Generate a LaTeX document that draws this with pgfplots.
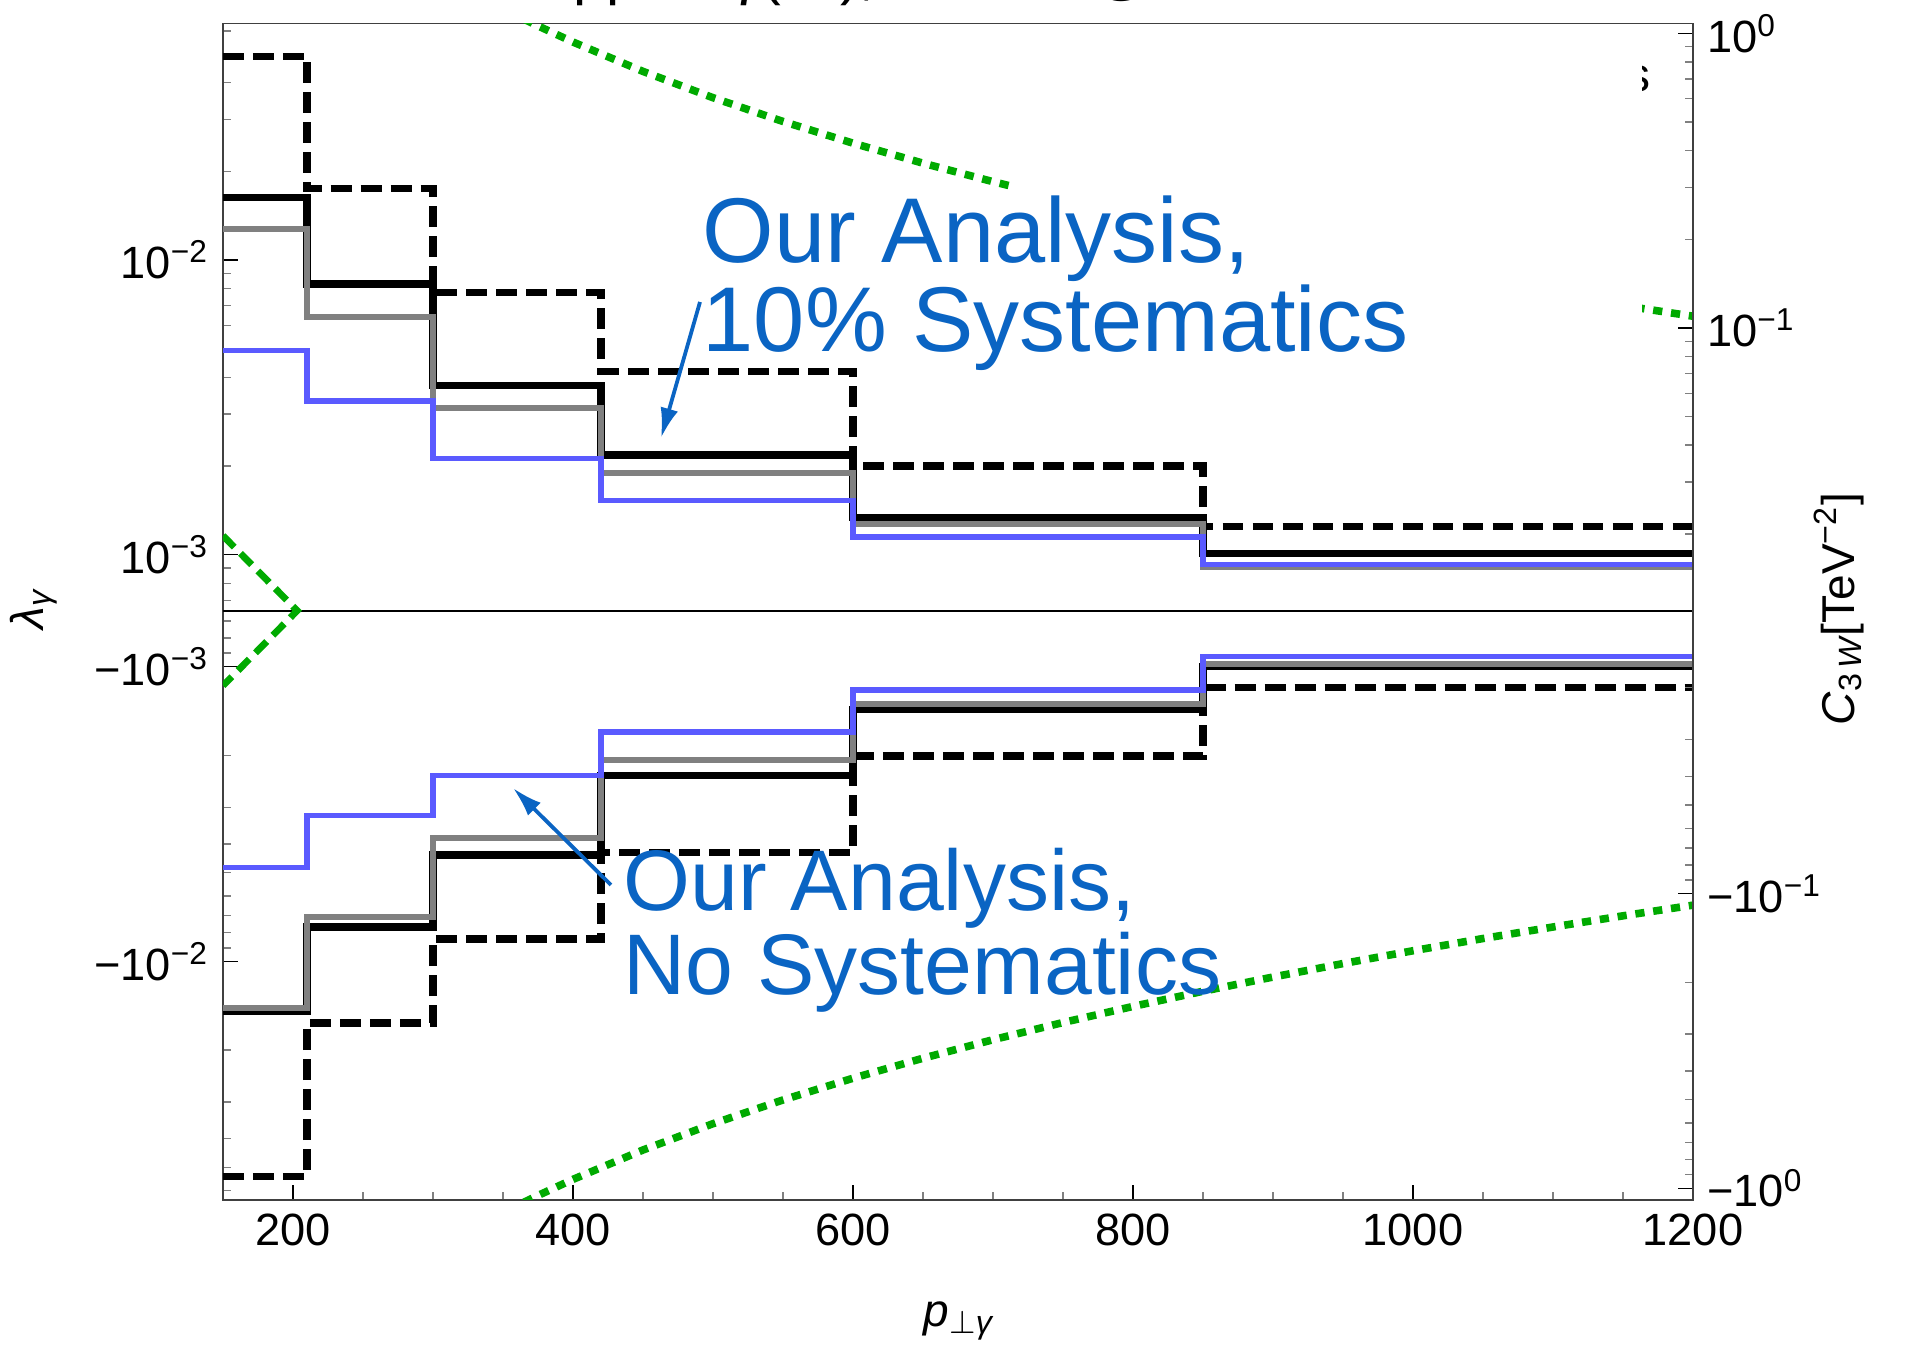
\documentclass[border=0pt]{standalone}
\usepackage{fontspec}
\setmainfont{Liberation Sans}
\usepackage{pgfplots}
\pgfplotsset{compat=1.18}
\usetikzlibrary{arrows.meta}

\definecolor{boundblue}{RGB}{90,90,255}
\definecolor{boundgray}{RGB}{128,128,128}
\definecolor{limitgreen}{RGB}{0,170,0}
\definecolor{noteblue}{RGB}{10,100,195}

% signed logarithmic y scale: one unit per decade, |y| below 10^(-offset) collapses onto the zero line
\pgfplotsset{
  signed log y/.style={
    y coord trafo/.code={%
      \begingroup
      \pgfkeys{/pgf/fpu=true,/pgf/fpu/output format=fixed}%
      \pgfmathparse{abs(##1)<10^(-#1) ? 0 : (##1<0 ? -1 : 1)*(0.4342945*ln(max(abs(##1),1e-9))+#1)}%
      \pgfmathsmuggle\pgfmathresult
      \endgroup
    },
  },
  common frame/.style={
    at={(0pt,0pt)}, anchor=south west,
    scale only axis, width=367.5pt, height=294.1pt,
    xmin=150, xmax=1200,
    tick align=inside,
    major tick length=3.75pt, minor tick length=1.9pt,
    tick style={black, line width=0.35pt},
    minor tick style={black!50, line width=0.35pt},
    axis line style={black!75, line width=0.45pt},
    tick label style={font=\fontsize{11.3}{13}\selectfont},
    /pgf/number format/assume math mode=true,
    /pgf/number format/set thousands separator={},
  },
  bin step/.style={const plot, line width=#1},
}

\begin{document}
\begin{tikzpicture}

% ---------- left scale: lambda_gamma ----------
\begin{axis}[
  common frame,
  signed log y=3.19,
  ymin=-0.0646, ymax=0.0635,
  xtick={200,400,...,1200}, minor x tick num=3,
  xtick pos=bottom, ytick pos=left,
  ytick={-0.01,-0.001,0.001,0.01},
  yticklabels={−10\textsuperscript{−2},−10\textsuperscript{−3},10\textsuperscript{−3},10\textsuperscript{−2}},
  minor ytick={-0.06,-0.05,-0.04,-0.03,-0.02,-0.009,-0.008,-0.007,-0.006,-0.005,-0.004,-0.003,-0.002,-0.0009,-0.0008,-0.0007,
               0.0007,0.0008,0.0009,0.002,0.003,0.004,0.005,0.006,0.007,0.008,0.009,0.02,0.03,0.04,0.05,0.06},
]

% zero line
\addplot[black, line width=0.5pt] coordinates {(150,0) (1200,0)};

% outer limits (dotted)
\addplot[limitgreen, line width=1.9pt, dash pattern=on 2.3pt off 2.2pt] coordinates {
  (365,0.06573) (375,0.06236) (400,0.05498) (450,0.04370) (500,0.03558) (550,0.02955)
  (600,0.02494) (650,0.02133) (700,0.01846) (750,0.01614) (800,0.01423) (850,0.01264)
  (900,0.01131) (950,0.01018) (1000,0.00921) (1050,0.00837) (1100,0.00765) (1150,0.00701) (1200,0.00645)};
\addplot[limitgreen, line width=1.9pt, dash pattern=on 2.3pt off 2.2pt] coordinates {
  (365,-0.06573) (375,-0.06236) (400,-0.05498) (450,-0.04370) (500,-0.03558) (550,-0.02955)
  (600,-0.02494) (650,-0.02133) (700,-0.01846) (750,-0.01614) (800,-0.01423) (850,-0.01264)
  (900,-0.01131) (950,-0.01018) (1000,-0.00921) (1050,-0.00837) (1100,-0.00765) (1150,-0.00701) (1200,-0.00645)};

% low-pT limits (dashed)
\addplot[limitgreen, line width=1.7pt, dash pattern=on 4pt off 2.2pt] coordinates {(150,0.00116) (203,0) (150,-0.00116)};

% binned bounds, upper side
\addplot[black, bin step=1.8pt, dash pattern=on 5.2pt off 2.3pt] coordinates {
  (150,0.0492) (210,0.0175) (300,0.00775) (420,0.0042) (600,0.0020) (850,0.001245) (1200,0.001245)};
\addplot[black, bin step=1.8pt] coordinates {
  (150,0.0163) (210,0.0083) (300,0.00375) (420,0.00218) (600,0.00134) (850,0.00101) (1200,0.00101)};
\addplot[boundgray, bin step=1.5pt] coordinates {
  (150,0.0128) (210,0.0064) (300,0.00316) (420,0.00189) (600,0.00127) (850,0.000905) (1200,0.000905)};
\addplot[boundblue, bin step=1.4pt] coordinates {
  (150,0.00494) (210,0.00333) (300,0.00212) (420,0.00153) (600,0.00115) (850,0.000925) (1200,0.000925)};

% binned bounds, lower side
\addplot[black, bin step=1.8pt, dash pattern=on 5.2pt off 2.3pt] coordinates {
  (150,-0.0536) (210,-0.0162) (300,-0.0084) (420,-0.00427) (600,-0.00201) (850,-0.00118) (1200,-0.00118)};
\addplot[black, bin step=1.8pt] coordinates {
  (150,-0.0148) (210,-0.00765) (300,-0.00436) (420,-0.00234) (600,-0.0014) (850,-0.001) (1200,-0.001)};
\addplot[boundgray, bin step=1.5pt] coordinates {
  (150,-0.01445) (210,-0.0071) (300,-0.00381) (420,-0.00207) (600,-0.00134) (850,-0.00098) (1200,-0.00098)};
\addplot[boundblue, bin step=1.4pt] coordinates {
  (150,-0.0048) (210,-0.0032) (300,-0.00234) (420,-0.00167) (600,-0.0012) (850,-0.000925) (1200,-0.000925)};
\end{axis}

% ---------- right scale: C_3W ----------
\begin{axis}[
  common frame,
  hide x axis,
  axis y line*=right,
  signed log y=1.96,
  ymin=-1.0965, ymax=1.079,
  ytick={-1,-0.1,0.1,1},
  yticklabels={−10\textsuperscript{0},−10\textsuperscript{−1},10\textsuperscript{−1},10\textsuperscript{0}},
  minor ytick={-0.9,-0.8,-0.7,-0.6,-0.5,-0.4,-0.3,-0.2,-0.09,-0.08,-0.07,-0.06,-0.05,-0.04,-0.03,-0.02,
               0.02,0.03,0.04,0.05,0.06,0.07,0.08,0.09,0.2,0.3,0.4,0.5,0.6,0.7,0.8,0.9},
]
\addplot[draw=none] coordinates {(150,0.5) (1200,0.5)};
\end{axis}

% legend remnant and its blank panel
\node[anchor=base east, inner sep=0pt, font=\fontsize{12}{14}\selectfont] at (357pt,277pt) {s};
\fill[white] (197pt,208.75pt) rectangle (354.75pt,293.4pt);

% title (runs off the top edge)
\node[anchor=base west, inner sep=0pt, font=\fontsize{14.8}{17}\selectfont] at (87.5pt,301.5pt) {pp → γ(νν), 14 TeV @ HL-LHC};

% axis titles
\node[rotate=90, font=\fontsize{11.5}{13}\selectfont] at (-47.25pt,147.75pt) {\itshape λ\textsubscript{γ}};
\node[font=\fontsize{11.5}{13}\selectfont] at (184pt,-30.25pt) {\itshape p\textsubscript{$\perp$γ}};
\node[rotate=90, font=\fontsize{11.5}{13}\selectfont] at (404pt,147.75pt) {{\itshape C}\textsubscript{3\,\itshape W}[TeV\textsuperscript{−2}]};

% annotations (anchored at the baseline of the last line)
\begin{scope}[noteblue]
\node[anchor=base west, inner sep=0pt, align=left, font=\fontsize{23}{19.5}\selectfont] at (119.75pt,212pt)
  {Our Analysis,\\10\% Systematics};
\draw[line width=0.95pt, -{Latex[length=7.5pt, width=4.5pt]}] (119.25pt,224.5pt) -- (109.5pt,190.5pt);
\node[anchor=base west, inner sep=0pt, align=left, font=\fontsize{21.5}{18.75}\selectfont] at (100pt,51.25pt)
  {Our Analysis,\\No Systematics};
\draw[line width=0.95pt, -{Latex[length=7.5pt, width=4.5pt]}] (97pt,78.75pt) -- (72.5pt,103pt);
\end{scope}

\pgfresetboundingbox
\path[use as bounding box] (-55.75pt,-37.25pt) rectangle (421.75pt,300pt);
\end{tikzpicture}
\end{document}
